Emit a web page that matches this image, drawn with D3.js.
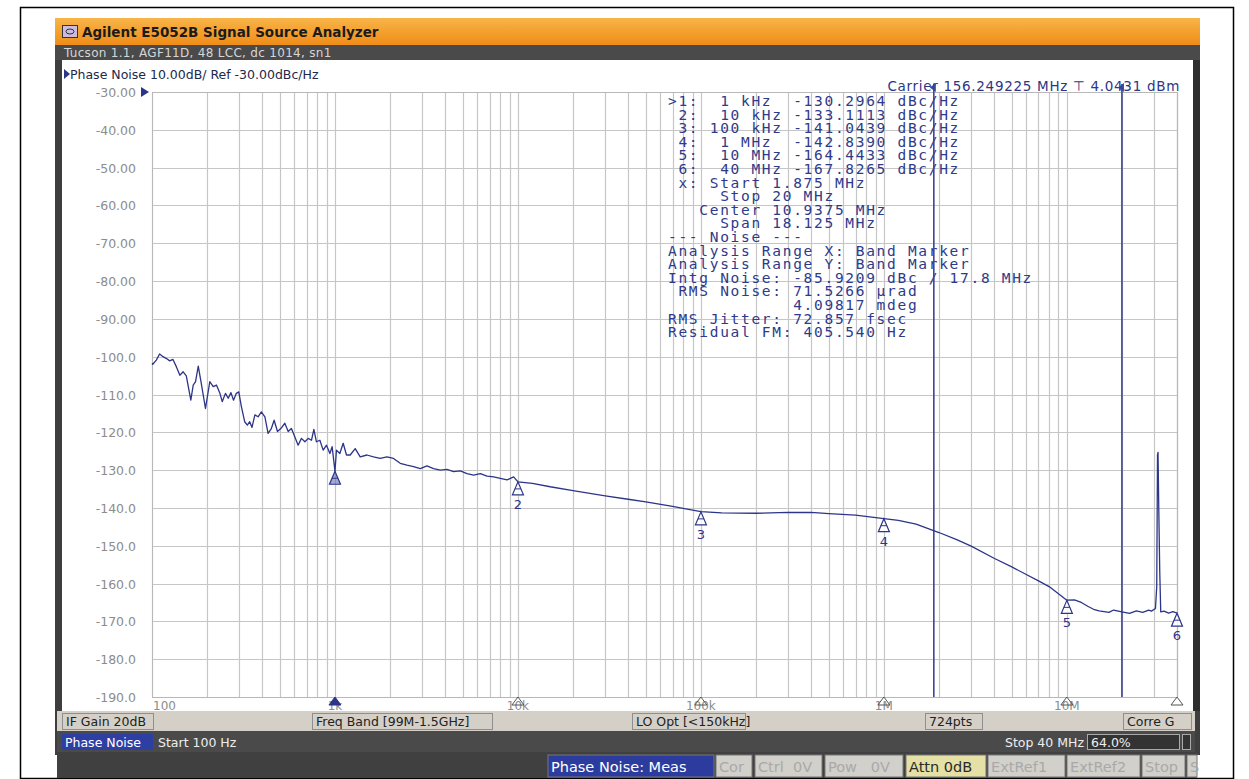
<!DOCTYPE html>
<html>
<head>
<meta charset="utf-8">
<script src="https://cdn.jsdelivr.net/npm/d3@7"></script>
<style>
body { margin: 0; background: #fff; }
svg text { font-family: "DejaVu Sans", Verdana, sans-serif; }
.mono { font-family: "DejaVu Sans Mono", monospace !important; white-space: pre; }
</style>
</head>
<body>
<svg id="chart" width="1249" height="779"></svg>
<script>
// ------------------------------------------------------------------
//	phase noise screen, E5052B
// ------------------------------------------------------------------

// trace (Hz, dBc/Hz)
const noiseFreq = [
  100, 101, 105.6, 110, 115, 120, 125, 130, 136, 142, 148, 154, 163, 168, 173, 179, 186, 196,
  207, 216, 225, 235, 242, 252, 261, 270, 279, 289, 298, 308, 321, 332, 342, 352, 365, 380,
  396, 414, 431, 449, 465, 485, 506, 532, 555, 578, 603, 629, 656, 685, 714, 744, 767, 792,
  827, 862, 899, 938, 965, 1000, 1019, 1063, 1109, 1156, 1211, 1290, 1374, 1495, 1624, 1767,
  1923, 2089, 2273, 2474, 2688, 2925, 3183, 3458, 3763, 4094, 4449, 4841, 5267, 5725, 6229,
  6776, 7365, 8013, 8717, 9474, 10000,
  12000, 15000, 20000, 30000, 40000, 50000, 70000, 100000, 130000, 200000, 300000, 400000,
  500000, 700000, 1e6, 1.2e6, 1.5e6, 2e6, 2.5e6, 3e6, 4e6, 5e6, 6e6, 7e6, 8e6, 1e7,
  1.1e7, 1.2e7, 1.3e7, 1.4e7, 1.5e7, 1.7e7, 1.8e7, 2e7, 2.2e7, 2.4e7, 2.6e7, 2.8e7, 2.9e7,
  3.05e7, 3.1e7, 3.13e7, 3.15e7, 3.18e7, 3.22e7, 3.26e7, 3.4e7, 3.6e7, 3.8e7, 4e7
]
const noiseDbc = [
  -101.8, -102.0, -100.9, -99.3, -100.0, -100.5, -101.1, -100.7, -102.7, -104.9, -104.0, -105.1, -111.5, -107.5, -106.6, -102.5, -107.1, -113.7,
  -106.6, -107.9, -107.5, -109.7, -111.9, -109.7, -111.0, -109.5, -111.5, -109.7, -109.3, -113.2, -117.2, -118.1, -117.2, -118.7, -115.4, -115.9,
  -114.6, -115.9, -120.3, -119.0, -116.8, -119.8, -119.0, -117.6, -119.8, -119.0, -121.2, -123.4, -121.6, -122.5, -121.6, -122.1, -119.2, -122.5,
  -122.1, -124.7, -123.4, -125.6, -123.8, -130.3, -124.7, -125.6, -122.9, -126.0, -126.0, -124.3, -126.5, -126.0, -126.5, -126.9,
  -126.5, -126.9, -128.2, -128.7, -129.1, -129.6, -128.9, -129.6, -130.0, -129.8, -130.4, -130.2, -130.9, -131.3, -130.9,
  -131.6, -131.8, -132.2, -132.6, -131.8, -133.1,
  -133.5, -134.4, -135.4, -136.8, -137.7, -138.4, -139.6, -141.0, -141.3, -141.4, -141.2, -141.2,
  -141.5, -141.9, -142.8, -143.3, -144.3, -146.5, -148.4, -150.1, -153.3, -155.6, -157.6, -159.3, -160.8, -164.4,
  -164.3, -165.0, -166.0, -166.8, -167.2, -167.6, -167.0, -167.5, -167.9, -167.2, -167.6, -167.0, -167.3,
  -166.6, -160.8, -126.0, -125.3, -140.0, -157.0, -167.5, -167.3, -167.8, -167.4, -167.8
]

// markers
const markerNo = ["1", "2", "3", "4", "5", "6"]
const markerFreq = [1e3, 1e4, 1e5, 1e6, 1e7, 4e7]
const markerDbc = [-130.2964, -133.1113, -141.0439, -142.8390, -164.4433, -167.8265]

// band marker (integration range)
const bandFreq = [1.875e6, 20e6]

// axes
const yTickVals = [-30, -40, -50, -60, -70, -80, -90, -100, -110, -120, -130, -140, -150, -160, -170, -180, -190]
const yTickText = ["-30.00", "-40.00", "-50.00", "-60.00", "-70.00", "-80.00", "-90.00", "-100.0", "-110.0",
                   "-120.0", "-130.0", "-140.0", "-150.0", "-160.0", "-170.0", "-180.0", "-190.0"]
const xTickVals = [100, 1e3, 1e4, 1e5, 1e6, 1e7]
const xTickText = ["100", "1k", "10k", "100k", "1M", "10M"]
const decades = [100, 1e3, 1e4, 1e5, 1e6, 1e7]
const minorSteps = [1, 2, 3, 4, 5, 6, 7, 8, 9]

// marker table text
const infoLines = [
  ">1:  1 kHz  -130.2964 dBc/Hz",
  " 2:  10 kHz -133.1113 dBc/Hz",
  " 3: 100 kHz -141.0439 dBc/Hz",
  " 4:  1 MHz  -142.8390 dBc/Hz",
  " 5:  10 MHz -164.4433 dBc/Hz",
  " 6:  40 MHz -167.8265 dBc/Hz",
  " x: Start 1.875 MHz",
  "     Stop 20 MHz",
  "   Center 10.9375 MHz",
  "     Span 18.125 MHz",
  "--- Noise ---",
  "Analysis Range X: Band Marker",
  "Analysis Range Y: Band Marker",
  "Intg Noise: -85.9209 dBc / 17.8 MHz",
  " RMS Noise: 71.5266 \u00b5rad",
  "            4.09817 mdeg",
  "RMS Jitter: 72.857 fsec",
  "Residual FM: 405.540 Hz"
]

// status bars
const statusText = ["IF Gain 20dB", "Freq Band [99M-1.5GHz]", "LO Opt [<150kHz]", "724pts", "Corre G"]
const statusX0 = [62, 312, 632, 925, 1123]
const statusX1 = [153, 492, 745, 982, 1191]
const keyText = ["Phase Noise: Meas", "Cor", "Ctrl  0V", "Pow   0V", "Attn 0dB", "ExtRef1", "ExtRef2", "Stop", "S"]
const keyX0 = [548, 716, 755, 825, 906, 988, 1067, 1142, 1187]
const keyX1 = [714, 752, 822, 903, 986, 1065, 1140, 1185, 1197]
const keyKind = ["on", "off", "off", "off", "hold", "off", "off", "off", "off"]

const navy = "#2c3587"
const gridCol = "#c6c6c6"

const svg = d3.select("#chart")

// ------------------------------------------------------------------
// page and window frame
svg.append("rect").attr("x", 20.5).attr("y", 7.5).attr("width", 1213).attr("height", 771)
  .attr("fill", "#fff").attr("stroke", "#000").attr("stroke-width", 1.5)

const grad = svg.append("defs").append("linearGradient").attr("id", "title")
  .attr("x1", 0).attr("y1", 0).attr("x2", 0).attr("y2", 1)
grad.append("stop").attr("offset", "0%").attr("stop-color", "#f8b448")
grad.append("stop").attr("offset", "100%").attr("stop-color", "#ef8d18")

svg.append("rect").attr("x", 55).attr("y", 45).attr("width", 1145).attr("height", 710).attr("fill", "#3e3e3e")
svg.append("rect").attr("x", 55).attr("y", 18).attr("width", 1145).attr("height", 27).attr("fill", "url(#title)")
svg.append("rect").attr("x", 62.5).attr("y", 25.5).attr("width", 15).attr("height", 12)
  .attr("fill", "#cbbbe0").attr("stroke", "#333")
svg.append("ellipse").attr("cx", 70).attr("cy", 31.5).attr("rx", 4).attr("ry", 2.5)
  .attr("fill", "none").attr("stroke", "#333")
svg.append("text").attr("x", 82).attr("y", 37).attr("font-size", 13.5).attr("font-weight", "bold")
  .attr("fill", "#1b1b1b").text("Agilent E5052B Signal Source Analyzer")

svg.append("rect").attr("x", 55).attr("y", 45).attr("width", 1145).attr("height", 15).attr("fill", "#4a4a4a")
svg.append("text").attr("x", 64).attr("y", 56.5).attr("font-size", 12).attr("letter-spacing", 0.3)
  .attr("fill", "#d6d6d6").text("Tucson 1.1, AGF11D, 48 LCC, dc 1014, sn1")

svg.append("rect").attr("x", 62).attr("y", 60).attr("width", 1131).attr("height", 651).attr("fill", "#fff")

svg.append("path").attr("d", "M64,69 L70,74 L64,79 Z").attr("fill", navy)
svg.append("text").attr("x", 70).attr("y", 79).attr("font-size", 12.5).attr("fill", "#22284a")
  .text("Phase Noise 10.00dB/ Ref -30.00dBc/Hz")

// ------------------------------------------------------------------
// scales
const x = d3.scaleLog().domain([100, 4e7]).range([152, 1177])
const y = d3.scaleLinear().domain([-190, -30]).range([697, 92])

// grid
const xGrid = []
decades.forEach(function (d) {
  minorSteps.forEach(function (m) { if (d * m <= 4e7) xGrid.push(d * m) })
})
xGrid.push(4e7)

svg.append("g").selectAll("line").data(xGrid).enter().append("line")
  .attr("x1", function (d) { return Math.round(x(d)) + 0.5 })
  .attr("x2", function (d) { return Math.round(x(d)) + 0.5 })
  .attr("y1", 92).attr("y2", 697)
  .attr("stroke", gridCol).attr("stroke-width", 1.2)

svg.append("g").selectAll("line").data(yTickVals).enter().append("line")
  .attr("x1", 152).attr("x2", 1177)
  .attr("y1", function (d) { return Math.round(y(d)) + 0.5 })
  .attr("y2", function (d) { return Math.round(y(d)) + 0.5 })
  .attr("stroke", gridCol).attr("stroke-width", 1.2)

svg.append("rect").attr("x", 152.5).attr("y", 92.5).attr("width", 1025).attr("height", 605)
  .attr("fill", "none").attr("stroke", "#b8b8b8")

// y labels
svg.append("g").selectAll("text").data(yTickVals).enter().append("text")
  .attr("x", 136).attr("y", function (d) { return y(d) + 5 })
  .attr("text-anchor", "end").attr("font-size", 12.5).attr("fill", "#8c8c8c")
  .text(function (d, i) { return yTickText[i] })

svg.append("path").attr("d", "M141,87 L149,92 L141,97 Z").attr("fill", navy)

// x labels
svg.append("g").selectAll("text").data(xTickVals).enter().append("text")
  .attr("x", function (d, i) { return i === 0 ? x(d) + 1 : x(d) })
  .attr("y", 710)
  .attr("text-anchor", function (d, i) { return i === 0 ? "start" : "middle" })
  .attr("font-size", 12).attr("fill", "#8c8c8c")
  .text(function (d, i) { return xTickText[i] })

// ------------------------------------------------------------------
// info text
svg.append("text").attr("x", 1180).attr("y", 91).attr("text-anchor", "end")
  .attr("font-size", 13.5).attr("letter-spacing", 0.7).attr("fill", navy)
  .text("Carrier 156.249225 MHz \u22a4 4.0431 dBm")

svg.append("g").selectAll("text").data(infoLines).enter().append("text")
  .attr("class", "mono").attr("xml:space", "preserve")
  .attr("x", 668).attr("y", function (d, i) { return 106 + i * 13.6 })
  .attr("font-size", 14.5).attr("letter-spacing", 1.7).attr("fill", "#2e3a8a")
  .text(function (d) { return d })

// band marker lines
bandFreq.forEach(function (f) {
  const bx = x(f)
  svg.append("line").attr("x1", bx).attr("x2", bx).attr("y1", 84).attr("y2", 697)
    .attr("stroke", "#3a4596").attr("stroke-width", 1.6)
  svg.append("path").attr("d", "M" + (bx + 2) + ",83 L" + (bx - 4) + ",87.5 L" + (bx + 2) + ",92 Z")
    .attr("fill", "#3a4596")
})

// ------------------------------------------------------------------
// trace
const line = d3.line()
  .x(function (d, i) { return x(noiseFreq[i]) })
  .y(function (d) { return y(d) })

svg.append("path").datum(noiseDbc).attr("d", line)
  .attr("fill", "none").attr("stroke", navy).attr("stroke-width", 1.3)
  .attr("stroke-linejoin", "round")

// markers on trace
const mk = svg.append("g")
markerFreq.forEach(function (f, i) {
  const mx = x(f), my = y(markerDbc[i])
  mk.append("path")
    .attr("d", "M" + mx + "," + my + " L" + (mx - 5.5) + "," + (my + 13) + " L" + (mx + 5.5) + "," + (my + 13) + " Z")
    .attr("fill", i === 0 ? "#6470b8" : "#fff").attr("fill-opacity", i === 0 ? 0.6 : 0.8)
    .attr("stroke", navy).attr("stroke-width", 1.2)
  mk.append("line").attr("x1", mx - 3).attr("x2", mx + 3).attr("y1", my + 7).attr("y2", my + 7)
    .attr("stroke", navy)
  if (i > 0) {
    mk.append("text").attr("x", mx).attr("y", my + 27).attr("text-anchor", "middle")
      .attr("font-size", 13).attr("fill", navy).text(markerNo[i])
  }
  // marker flags on the frequency axis
  mk.append("path")
    .attr("d", "M" + mx + ",697 L" + (mx - 6) + ",705 L" + (mx + 6) + ",705 Z")
    .attr("fill", i === 0 ? navy : "none").attr("stroke", i === 0 ? navy : "#555")
    .attr("stroke-width", 1)
})

// ------------------------------------------------------------------
// status bars
svg.append("rect").attr("x", 57).attr("y", 711).attr("width", 1138).attr("height", 20).attr("fill", "#d4d0c8")
statusText.forEach(function (t, i) {
  svg.append("rect").attr("x", statusX0[i] + 0.5).attr("y", 713.5)
    .attr("width", statusX1[i] - statusX0[i]).attr("height", 16)
    .attr("fill", "#d4d0c8").attr("stroke", "#8e8e8e")
  svg.append("text").attr("x", statusX0[i] + 4).attr("y", 726).attr("font-size", 12.5)
    .attr("fill", "#222").text(t)
})

svg.append("rect").attr("x", 57).attr("y", 731).attr("width", 1138).attr("height", 21).attr("fill", "#4a4a4a")
svg.append("rect").attr("x", 62).attr("y", 734).attr("width", 91).attr("height", 16).attr("fill", "#2d3fa2")
svg.append("text").attr("x", 65).attr("y", 746.5).attr("font-size", 12.5).attr("fill", "#fff").text("Phase Noise")
svg.append("text").attr("x", 158).attr("y", 746.5).attr("font-size", 12.5).attr("fill", "#eee").text("Start 100 Hz")
svg.append("text").attr("x", 1084).attr("y", 746.5).attr("text-anchor", "end").attr("font-size", 12.5)
  .attr("fill", "#eee").text("Stop 40 MHz")
svg.append("rect").attr("x", 1087.5).attr("y", 734.5).attr("width", 92).attr("height", 15)
  .attr("fill", "#333").attr("stroke", "#aaa")
svg.append("text").attr("x", 1091).attr("y", 746.5).attr("font-size", 12.5).attr("fill", "#eee").text("64.0%")
svg.append("rect").attr("x", 1182.5).attr("y", 734.5).attr("width", 8).attr("height", 15)
  .attr("fill", "#333").attr("stroke", "#aaa")

svg.append("rect").attr("x", 57).attr("y", 752).attr("width", 1140).attr("height", 26).attr("fill", "#404040")
keyText.forEach(function (t, i) {
  const bg = keyKind[i] === "on" ? "#2c3c9e" : keyKind[i] === "hold" ? "#e4e0a6" : "#d2d0ca"
  const fg = keyKind[i] === "on" ? "#fff" : keyKind[i] === "hold" ? "#2a2a2a" : "#a9a9a9"
  svg.append("rect").attr("x", keyX0[i]).attr("y", 755).attr("width", keyX1[i] - keyX0[i]).attr("height", 22)
    .attr("fill", bg).attr("stroke", "#777")
  svg.append("text").attr("x", keyX0[i] + 3).attr("y", 771.5).attr("font-size", 14.5)
    .attr("fill", fg).attr("xml:space", "preserve").style("white-space", "pre").text(t)
})

// right window edge
svg.append("rect").attr("x", 1193).attr("y", 60).attr("width", 7).attr("height", 651).attr("fill", "#2e2e2e")
</script>
</body>
</html>
